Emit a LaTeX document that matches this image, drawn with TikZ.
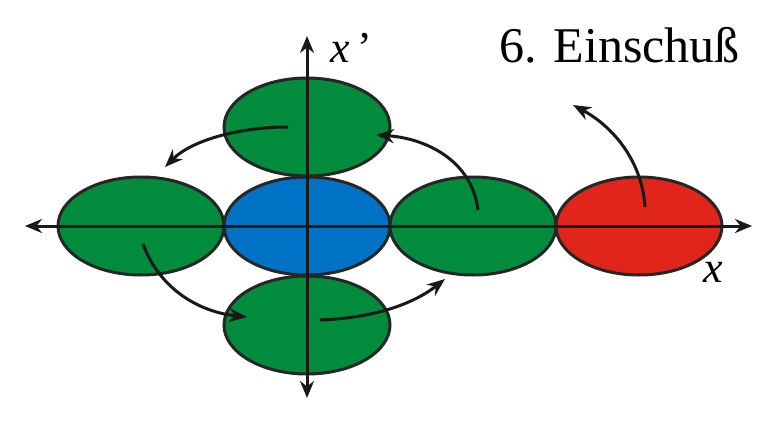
\documentclass[tikz,border=0pt]{standalone}
\usepackage{fontspec}
\setmainfont{Liberation Serif}
\usetikzlibrary{arrows.meta,shapes.geometric}
\definecolor{cgreen}{RGB}{0,140,60}
\definecolor{cblue}{RGB}{0,114,198}
\definecolor{cred}{RGB}{224,38,26}
\begin{document}
\begin{tikzpicture}[x=1pt,y=-1pt,
  blob/.style={ellipse,draw=black!85,line width=3pt,minimum width=166pt,minimum height=98pt,inner sep=0pt},
  axis/.style={line width=3pt,draw=black!90,-{Stealth[length=17pt,width=14pt]}},
  move/.style={line width=3pt,draw=black!90,-{Stealth[length=18pt,width=14pt]}},
  lbl/.style={font=\fontsize{44}{44}\selectfont,inner sep=0pt}]
\useasboundingbox (0,0) rectangle (758,434);
\fill[white] (0,0) rectangle (758,434);
% ellipses
\node[blob,fill=cgreen] (L) at (141,226) {};
\node[blob,fill=cblue] (C) at (307,226) {};
\node[blob,fill=cgreen] (R) at (473,226) {};
\node[blob,fill=cred] (E) at (639,226) {};
\node[blob,fill=cgreen] (T) at (307,127) {};
\node[blob,fill=cgreen] (B) at (307,325) {};
% axes
\coordinate (xl) at (25,226);
\coordinate (xr) at (752,226);
\coordinate (yt) at (307,36);
\coordinate (yb) at (307,398);
\draw[axis] (C.center) -- (xl);
\draw[axis] (C.center) -- (xr);
\draw[axis] (C.center) -- (yt);
\draw[axis] (C.center) -- (yb);
% movement arrows
\coordinate (t1) at (165,167);
\coordinate (s1) at (288,127);
\draw[move] (s1) .. controls (240,127) and (192,140) .. (t1);
\coordinate (s2) at (478,210);
\coordinate (t2) at (376,135);
\draw[move] (s2) .. controls (472,160) and (425,138) .. (t2);
\coordinate (s3) at (645,207);
\coordinate (t3) at (573,105);
\draw[move] (s3) .. controls (642,160) and (612,126) .. (t3);
\coordinate (s4) at (143,244);
\coordinate (t4) at (247,317);
\draw[move] (s4) .. controls (160,290) and (200,312) .. (t4);
\coordinate (s5) at (320,320);
\coordinate (t5) at (445,279);
\draw[move] (s5) .. controls (372,318) and (412,305) .. (t5);
% labels
\node[lbl,anchor=base west] (xp) at (330,62) {\textit{x}\,’};
\node[lbl,anchor=base west] (xx) at (703,282) {\textit{x}};
\node[font=\fontsize{50}{50}\selectfont,inner sep=0pt,anchor=base east] (title) at (740,62) {6. Einschuß};
\end{tikzpicture}
\end{document}
